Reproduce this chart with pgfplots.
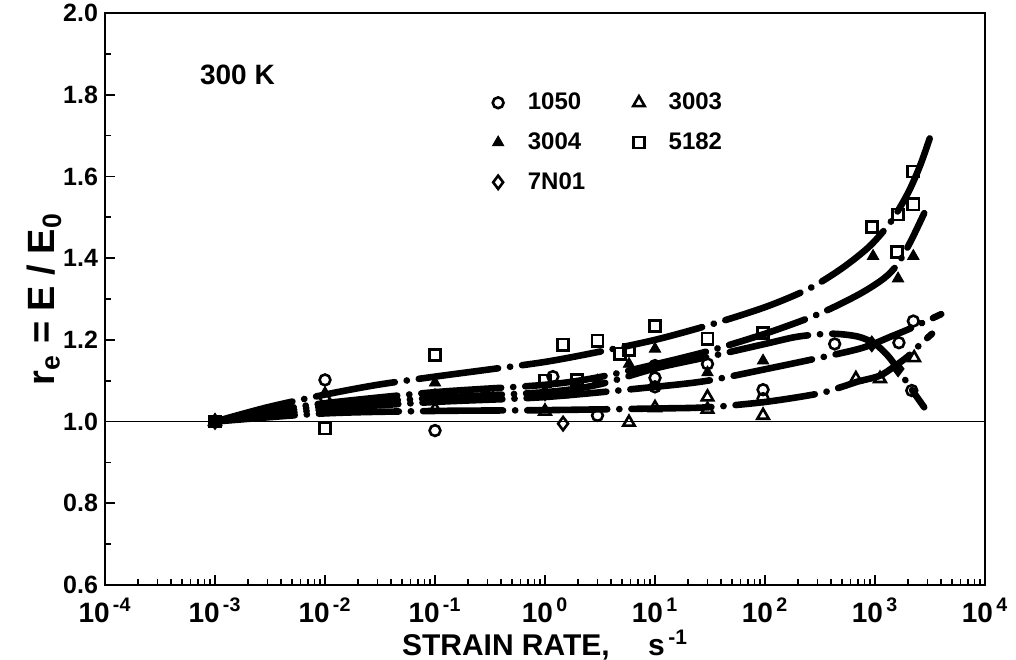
\documentclass[border=0pt]{standalone}
\usepackage{fontspec}
\setmainfont{Liberation Sans}
\usepackage{pgfplots}
\pgfplotsset{compat=1.18}
\begin{document}
\begin{tikzpicture}
\begin{axis}[
  at={(0,0)}, anchor=south west,
  scale only axis, width=440pt, height=286pt,
  xmode=log, xmin=1e-4, xmax=1e4, ymin=0.6, ymax=2.0,
  /pgf/number format/assume math mode=true,
  xtick={1e-4,1e-3,1e-2,1e-1,1,1e1,1e2,1e3,1e4},
  xticklabels={10\textsuperscript{\,-4},10\textsuperscript{\,-3},10\textsuperscript{\,-2},10\textsuperscript{\,-1},10\textsuperscript{\,0},10\textsuperscript{\,1},10\textsuperscript{\,2},10\textsuperscript{\,3},10\textsuperscript{\,4}},
  minor xtick={2e-4,3e-4,4e-4,5e-4,6e-4,7e-4,8e-4,9e-4,2e-3,3e-3,4e-3,5e-3,6e-3,7e-3,8e-3,9e-3,2e-2,3e-2,4e-2,5e-2,6e-2,7e-2,8e-2,9e-2,0.2,0.3,0.4,0.5,0.6,0.7,0.8,0.9,2,3,4,5,6,7,8,9,20,30,40,50,60,70,80,90,200,300,400,500,600,700,800,900,2000,3000,4000,5000,6000,7000,8000,9000},
  ytick={0.6,0.8,1.0,1.2,1.4,1.6,1.8,2.0},
  minor ytick={0.7,0.9,1.1,1.3,1.5,1.7,1.9},
  yticklabel={\pgfmathprintnumber[fixed,fixed zerofill,precision=1]{\tick}},
  yticklabel style={font=\bfseries\fontsize{12.5}{14}\selectfont},
  xticklabel style={font=\bfseries\fontsize{14}{16}\selectfont, yshift=-3pt},
  tick align=inside, xtick pos=bottom, ytick pos=left,
  major tick length=5pt, minor tick length=3pt,
  tick style={black, line width=0.8pt},
  axis line style={line width=1.2pt},
  xlabel={STRAIN RATE,\quad\ s\textsuperscript{\,-1}},
  xlabel style={font=\bfseries\fontsize{15}{17}\selectfont, yshift=3pt},
  ylabel={r\textsubscript{e} = E / E\textsubscript{0}},
  ylabel style={font=\bfseries\fontsize{19}{21}\selectfont, yshift=-6pt},
  legend columns=2,
  legend cell align=left,
  legend style={draw=none, fill=none, at={(0.433,0.875)}, anchor=north west,
    font=\bfseries\fontsize{12}{14}\selectfont, row sep=6pt,
    /tikz/every odd column/.append style={column sep=10pt},
    /tikz/every even column/.append style={column sep=22pt}},
  curve/.style={black, line width=3.3pt, line cap=round, smooth, tension=0.5,
    dash pattern=on 40pt off 6pt on 0.1pt off 6pt, forget plot},
]
% reference line at 1.0
\addplot[black, line width=0.8pt, forget plot] coordinates {(1e-4,1) (1e4,1)};
% fitted curves
\addplot[curve] coordinates {(0.001,1.0) (0.003,1.035) (0.01,1.066) (0.03,1.09) (0.1,1.11) (0.3,1.127) (1,1.146) (3,1.17) (10,1.20) (30,1.235) (100,1.28) (250,1.325) (500,1.375) (900,1.43) (1400,1.49) (2000,1.56) (2600,1.63) (3300,1.71)};
\addplot[curve] coordinates {(0.001,1.0) (0.003,1.025) (0.01,1.045) (0.1,1.072) (1,1.09) (3,1.108) (10,1.14) (30,1.172) (100,1.215) (300,1.262) (700,1.31) (1200,1.35) (1600,1.385) (2100,1.44) (2800,1.51)};
\addplot[curve] coordinates {(0.001,1.0) (0.01,1.038) (0.1,1.058) (1,1.072) (3,1.09) (10,1.13) (30,1.158) (100,1.19) (200,1.208) (400,1.215) (700,1.208) (1000,1.19) (1300,1.162) (1600,1.13) (2200,1.075) (2800,1.035)};
\addplot[curve] coordinates {(0.001,1.0) (0.01,1.03) (0.1,1.048) (1,1.06) (10,1.085) (30,1.10) (100,1.128) (300,1.155) (760,1.18) (1450,1.21) (2100,1.228) (4000,1.263)};
\addplot[curve] coordinates {(0.001,1.0) (0.01,1.02) (0.1,1.026) (1,1.028) (10,1.032) (30,1.035) (100,1.048) (300,1.068) (500,1.085) (700,1.098) (1100,1.112) (1500,1.135) (2000,1.16) (2600,1.19) (3300,1.215)};
% data
\addplot[only marks, mark=o, mark size=2.7pt, mark options={line width=1.3pt, fill=white, black}]
  coordinates {(0.001,1.0) (0.01,1.102) (0.1,0.978) (1.18,1.11) (3.0,1.015) (10,1.137) (10,1.107) (10,1.085) (30,1.141) (96,1.078) (96,1.056) (430,1.19) (1650,1.193) (2160,1.076) (2230,1.246)};
\addlegendentry{1050}
\addplot[only marks, mark=triangle, mark size=3.3pt, mark options={line width=1.3pt, fill=white, black}]
  coordinates {(0.001,1.0) (0.01,1.027) (0.1,1.03) (1.0,1.025) (5.8,0.998) (10,1.034) (30,1.06) (30,1.03) (96,1.015) (670,1.105) (1110,1.105) (2270,1.156)};
\addlegendentry{3003}
\addplot[only marks, mark=triangle*, mark size=3.3pt, mark options={black}]
  coordinates {(0.001,1.0) (0.01,1.07) (0.1,1.095) (1.46,1.066) (3.0,1.10) (5.8,1.141) (10,1.178) (30,1.12) (96,1.149) (960,1.405) (1620,1.35) (2230,1.405)};
\addlegendentry{3004}
\addplot[only marks, mark=square, mark size=2.8pt, mark options={line width=1.3pt, fill=white, black}]
  coordinates {(0.001,1.0) (0.01,0.983) (0.1,1.163) (0.30,1.068) (1.0,1.10) (1.46,1.188) (1.95,1.102) (3.0,1.198) (4.8,1.166) (5.8,1.176) (10,1.234) (30,1.203) (96,1.217) (940,1.476) (1590,1.415) (1620,1.507) (2230,1.532) (2230,1.612)};
\addlegendentry{5182}
\addplot[only marks, mark=diamond, mark size=3.3pt, mark options={line width=1.3pt, fill=white, black}]
  coordinates {(0.001,1.0) (0.01,1.056) (0.1,1.061) (1.0,1.07) (1.46,0.995) (935,1.19) (1620,1.129)};
\addlegendentry{7N01}
\node[anchor=west, font=\bfseries\fontsize{14}{16}\selectfont] at (rel axis cs:0.1,0.892) {300 K};
\end{axis}
\pgfresetboundingbox
\path[use as bounding box] (-52.5pt,-37pt) rectangle (455.5pt,292.5pt);
\end{tikzpicture}
\end{document}
